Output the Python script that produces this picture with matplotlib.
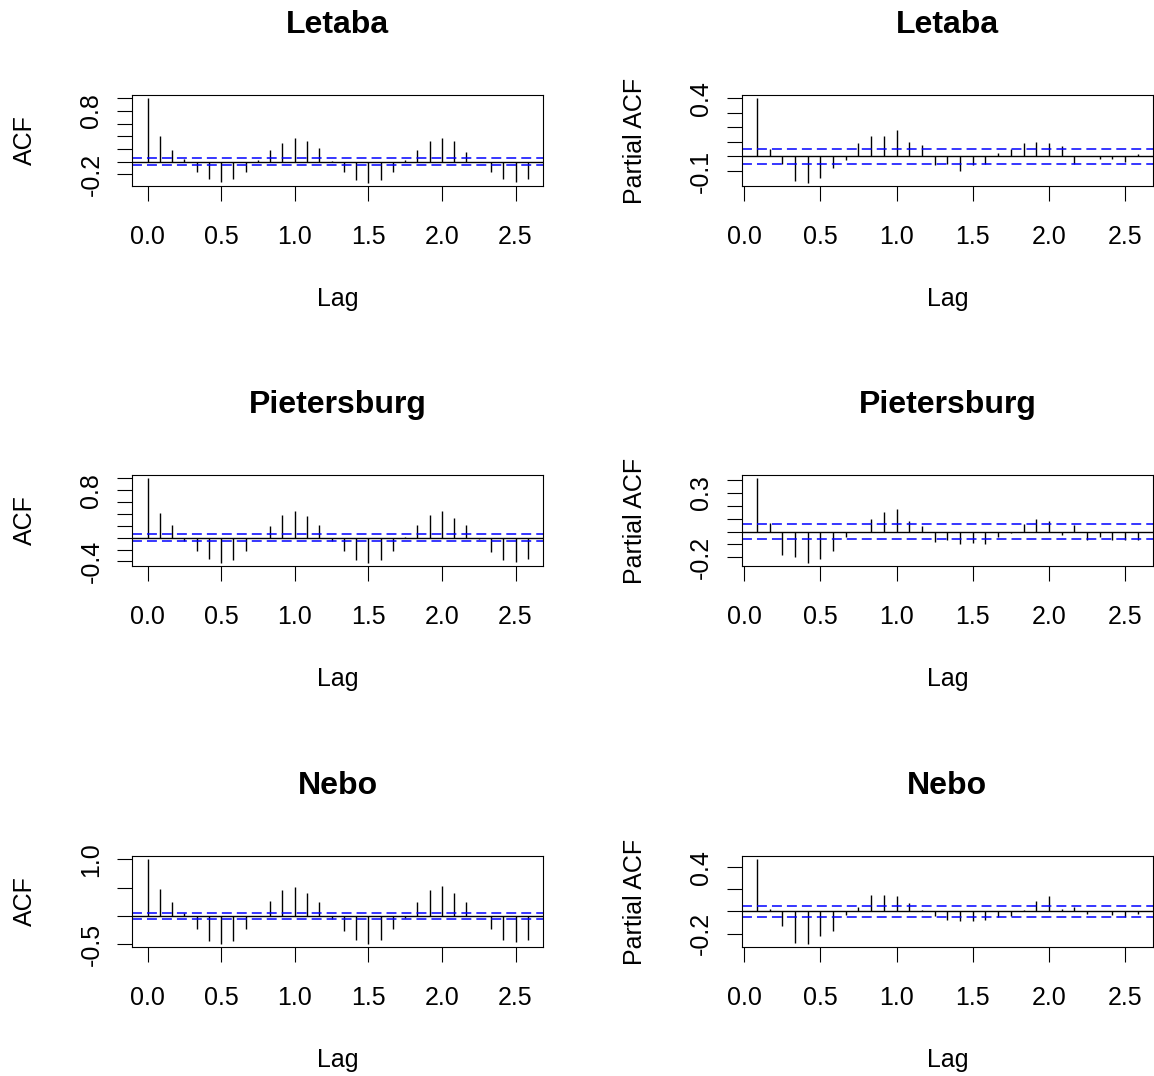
import matplotlib
matplotlib.use("Agg")
import matplotlib.pyplot as plt
import numpy as np

plt.rcParams['font.family'] = ['Liberation Sans', 'DejaVu Sans']

# data (monthly series, lag in years)
stations = ["Letaba", "Pietersburg", "Nebo"]

letaba_acf = [1.0, 0.40, 0.19, 0.05, -0.16, -0.27, -0.32, -0.27, -0.16, 0.03, 0.19, 0.29,
              0.37, 0.32, 0.21, 0.01, -0.16, -0.29, -0.33, -0.29, -0.16, 0.03, 0.19, 0.32,
              0.37, 0.32, 0.16, 0.0, -0.16, -0.27, -0.32, -0.27]
pieter_acf = [1.0, 0.42, 0.22, -0.06, -0.22, -0.36, -0.42, -0.38, -0.22, -0.01, 0.19, 0.39,
              0.45, 0.36, 0.22, -0.06, -0.22, -0.38, -0.42, -0.38, -0.22, 0.01, 0.22, 0.39,
              0.45, 0.33, 0.22, -0.03, -0.24, -0.38, -0.41, -0.36]
nebo_acf = [1.0, 0.48, 0.24, 0.05, -0.24, -0.45, -0.49, -0.45, -0.24, 0.0, 0.27, 0.45,
            0.51, 0.41, 0.24, -0.05, -0.27, -0.42, -0.49, -0.42, -0.24, -0.035, 0.24, 0.45,
            0.53, 0.41, 0.24, 0.0, -0.24, -0.42, -0.47, -0.42]

letaba_pacf = [0.40, 0.054, -0.054, -0.17, -0.18, -0.15, -0.08, -0.027, 0.09, 0.14, 0.14,
               0.18, 0.10, 0.08, -0.06, -0.05, -0.10, -0.06, -0.05, 0.025, 0.05, 0.09,
               0.10, 0.09, 0.07, -0.054, 0.0, -0.014, -0.018, -0.04, 0.018]
pieter_pacf = [0.41, 0.065, -0.18, -0.20, -0.24, -0.21, -0.15, -0.04, 0.0, 0.093, 0.154,
               0.17, 0.08, 0.043, -0.078, -0.065, -0.10, -0.09, -0.10, -0.04, -0.015, 0.055,
               0.093, 0.08, -0.028, 0.05, -0.065, -0.04, -0.065, -0.065, -0.065]
nebo_pacf = [0.47, 0.024, -0.13, -0.28, -0.29, -0.22, -0.18, -0.035, 0.044, 0.15, 0.15,
             0.14, 0.08, 0.015, -0.044, -0.076, -0.09, -0.09, -0.076, -0.053, -0.044, 0.015,
             0.094, 0.14, 0.02, 0.044, -0.02, 0.0, -0.035, -0.053, -0.02]

conf_limits = [0.051, 0.055, 0.052]

acf_ticks = [[-0.2, 0.0, 0.2, 0.4, 0.6, 0.8, 1.0],
             [-0.4, -0.2, 0.0, 0.2, 0.4, 0.6, 0.8, 1.0],
             [-0.5, 0.0, 0.5, 1.0]]
acf_labels = [["-0.2", "", "", "", "", "0.8", ""],
              ["-0.4", "", "", "", "", "", "0.8", ""],
              ["-0.5", "", "", "1.0"]]
pacf_ticks = [[-0.1, 0.0, 0.1, 0.2, 0.3, 0.4],
              [-0.2, -0.1, 0.0, 0.1, 0.2, 0.3, 0.4],
              [-0.2, 0.0, 0.2, 0.4]]
pacf_labels = [["-0.1", "", "", "", "", "0.4"],
               ["-0.2", "", "", "", "", "0.3", ""],
               ["-0.2", "", "", "0.4"]]
x_ticks = [0.0, 0.5, 1.0, 1.5, 2.0, 2.5]

acfs = [letaba_acf, pieter_acf, nebo_acf]
pacfs = [letaba_pacf, pieter_pacf, nebo_pacf]

W, H = 1154, 1076
fig = plt.figure(figsize=(W / 100, H / 100), dpi=100)

col_left = [132.3, 741.7]
col_w = [410.7, 411.3]
row_top = [95, 475, 856]
box_h = 91


def r_range(vals):
    lo, hi = min(vals), max(vals)
    pad = 0.04 * (hi - lo)
    return lo - pad, hi + pad


def draw(ax, lags, vals, ci, ticks, labels, ylab, title, wpx):
    ax.vlines(lags, 0, vals, color="black", lw=1.0)
    ax.axhline(0, color="black", lw=1.0)
    for c in (ci, -ci):
        ax.axhline(c, color="blue", lw=1.1, ls=(0, (6.5, 3.3)))
    ax.set_xlim(*r_range(list(lags)))
    ax.set_ylim(*r_range(list(vals) + [ci, -ci]))
    ax.set_xticks(x_ticks)
    ax.set_xticklabels(["%.1f" % t for t in x_ticks])
    ax.set_yticks(ticks)
    ax.set_yticklabels(labels, rotation=90, va="center")
    ax.tick_params(length=10.8, width=0.8, labelsize=18, pad=17)
    ax.tick_params(axis="y", pad=10)
    for s in ax.spines.values():
        s.set_linewidth(0.8)
    ax.set_xlabel("Lag", fontsize=18, va="center")
    ax.xaxis.set_label_coords(0.5, -113 / box_h)
    ax.set_ylabel(ylab, fontsize=18, va="center")
    ax.yaxis.set_label_coords(-107 / wpx, 0.5)
    ax.set_title(title, fontsize=23, fontweight="bold", y=1 + 70 / box_h, va="center", pad=0)


for i, name in enumerate(stations):
    top = row_top[i]
    # ACF
    ax = fig.add_axes([col_left[0] / W, 1 - (top + box_h) / H, col_w[0] / W, box_h / H])
    lags = np.arange(len(acfs[i])) / 12
    draw(ax, lags, acfs[i], conf_limits[i], acf_ticks[i], acf_labels[i], "ACF", name, col_w[0])
    # PACF
    ax = fig.add_axes([col_left[1] / W, 1 - (top + box_h) / H, col_w[1] / W, box_h / H])
    lags = np.arange(1, len(pacfs[i]) + 1) / 12
    draw(ax, lags, pacfs[i], conf_limits[i], pacf_ticks[i], pacf_labels[i], "Partial ACF", name, col_w[1])

fig.savefig("out.png", dpi=100)
